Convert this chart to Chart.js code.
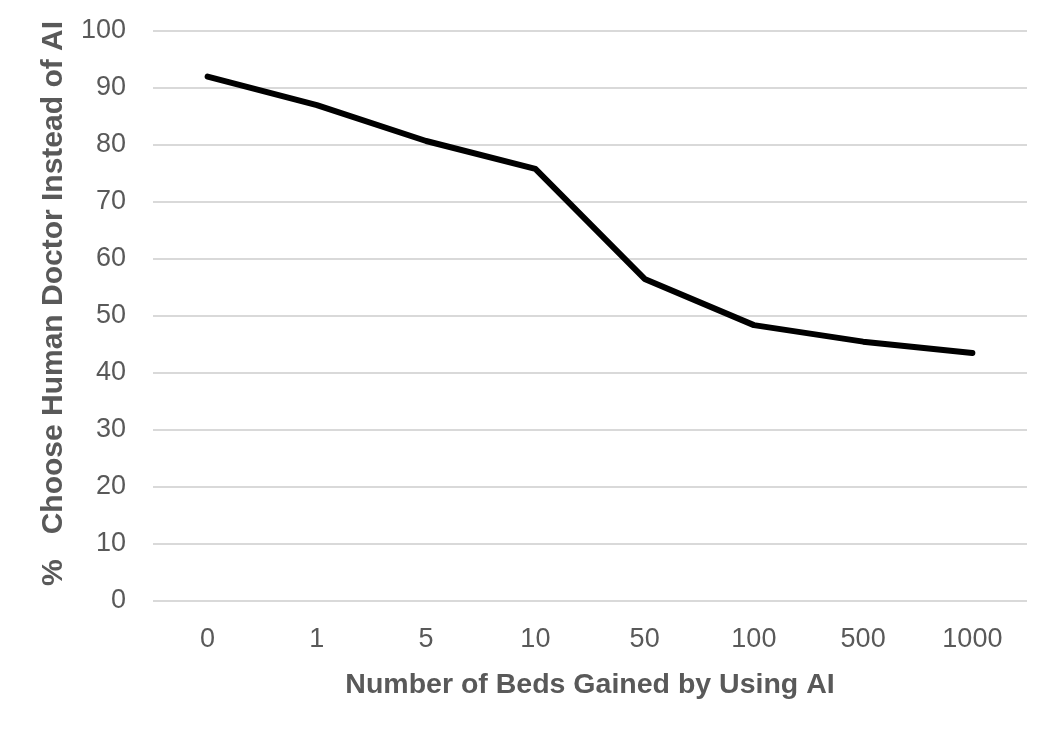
<!DOCTYPE html>
<html lang="en">

<head>
    <meta charset="UTF-8">
    <script src="https://cdn.jsdelivr.net/npm/chart.js"></script>
    <title>Choose Human Doctor Instead of AI</title>
    <style>
        html, body { margin: 0; padding: 0; background: #fff; }
    </style>
</head>

<body>
    <canvas id="lineChart" width="1056" height="733"></canvas>
    <script>
        const bedsGained = ["0", "1", "5", "10", "50", "100", "500", "1000"];
        const pctHumanDoctor = [92, 87, 80.7, 75.8, 56.5, 48.4, 45.5, 43.5];
        const yTicks = [0, 10, 20, 30, 40, 50, 60, 70, 80, 90, 100];

        const textColor = "#595959";
        const fontFamily = "'Liberation Sans', Arial, sans-serif";

        new Chart(document.getElementById("lineChart"), {
            type: "line",
            data: {
                labels: bedsGained,
                datasets: [{
                    data: pctHumanDoctor,
                    borderColor: "#000000",
                    borderWidth: 6,
                    borderCapStyle: "round",
                    borderJoinStyle: "round",
                    pointRadius: 0,
                    tension: 0,
                    fill: false
                }]
            },
            options: {
                responsive: false,
                animation: false,
                layout: { padding: { left: 0, right: 29, top: 31, bottom: 0 } },
                plugins: {
                    legend: { display: false },
                    tooltip: { enabled: false }
                },
                scales: {
                    x: {
                        offset: true,
                        grid: { display: false },
                        border: { display: false },
                        ticks: {
                            color: textColor,
                            font: { family: fontFamily, size: 27 },
                            padding: 14
                        },
                        title: {
                            display: true,
                            text: "Number of Beds Gained by Using AI",
                            color: textColor,
                            font: { family: fontFamily, size: 28.5, weight: "bold" },
                            padding: { top: 0, bottom: 31 }
                        },
                        afterFit: scale => { scale.height = 132; }
                    },
                    y: {
                        min: 0,
                        max: 100,
                        afterBuildTicks: scale => {
                            scale.ticks = yTicks.map(v => ({ value: v }));
                        },
                        grid: { color: "#d9d9d9", lineWidth: 2, drawTicks: false },
                        border: { display: false },
                        ticks: {
                            color: textColor,
                            font: { family: fontFamily, size: 27 },
                            padding: 27
                        },
                        title: {
                            display: true,
                            text: "   %   Choose Human Doctor Instead of AI",
                            color: textColor,
                            font: { family: fontFamily, size: 30, weight: "bold" },
                            padding: { top: 36, bottom: 0 }
                        },
                        afterFit: scale => {
                            scale.width = 153;
                            // tick padding otherwise pushes the plot top down
                            scale.paddingTop = 0;
                            scale.paddingBottom = 0;
                        }
                    }
                }
            }
        });
    </script>
</body>

</html>
